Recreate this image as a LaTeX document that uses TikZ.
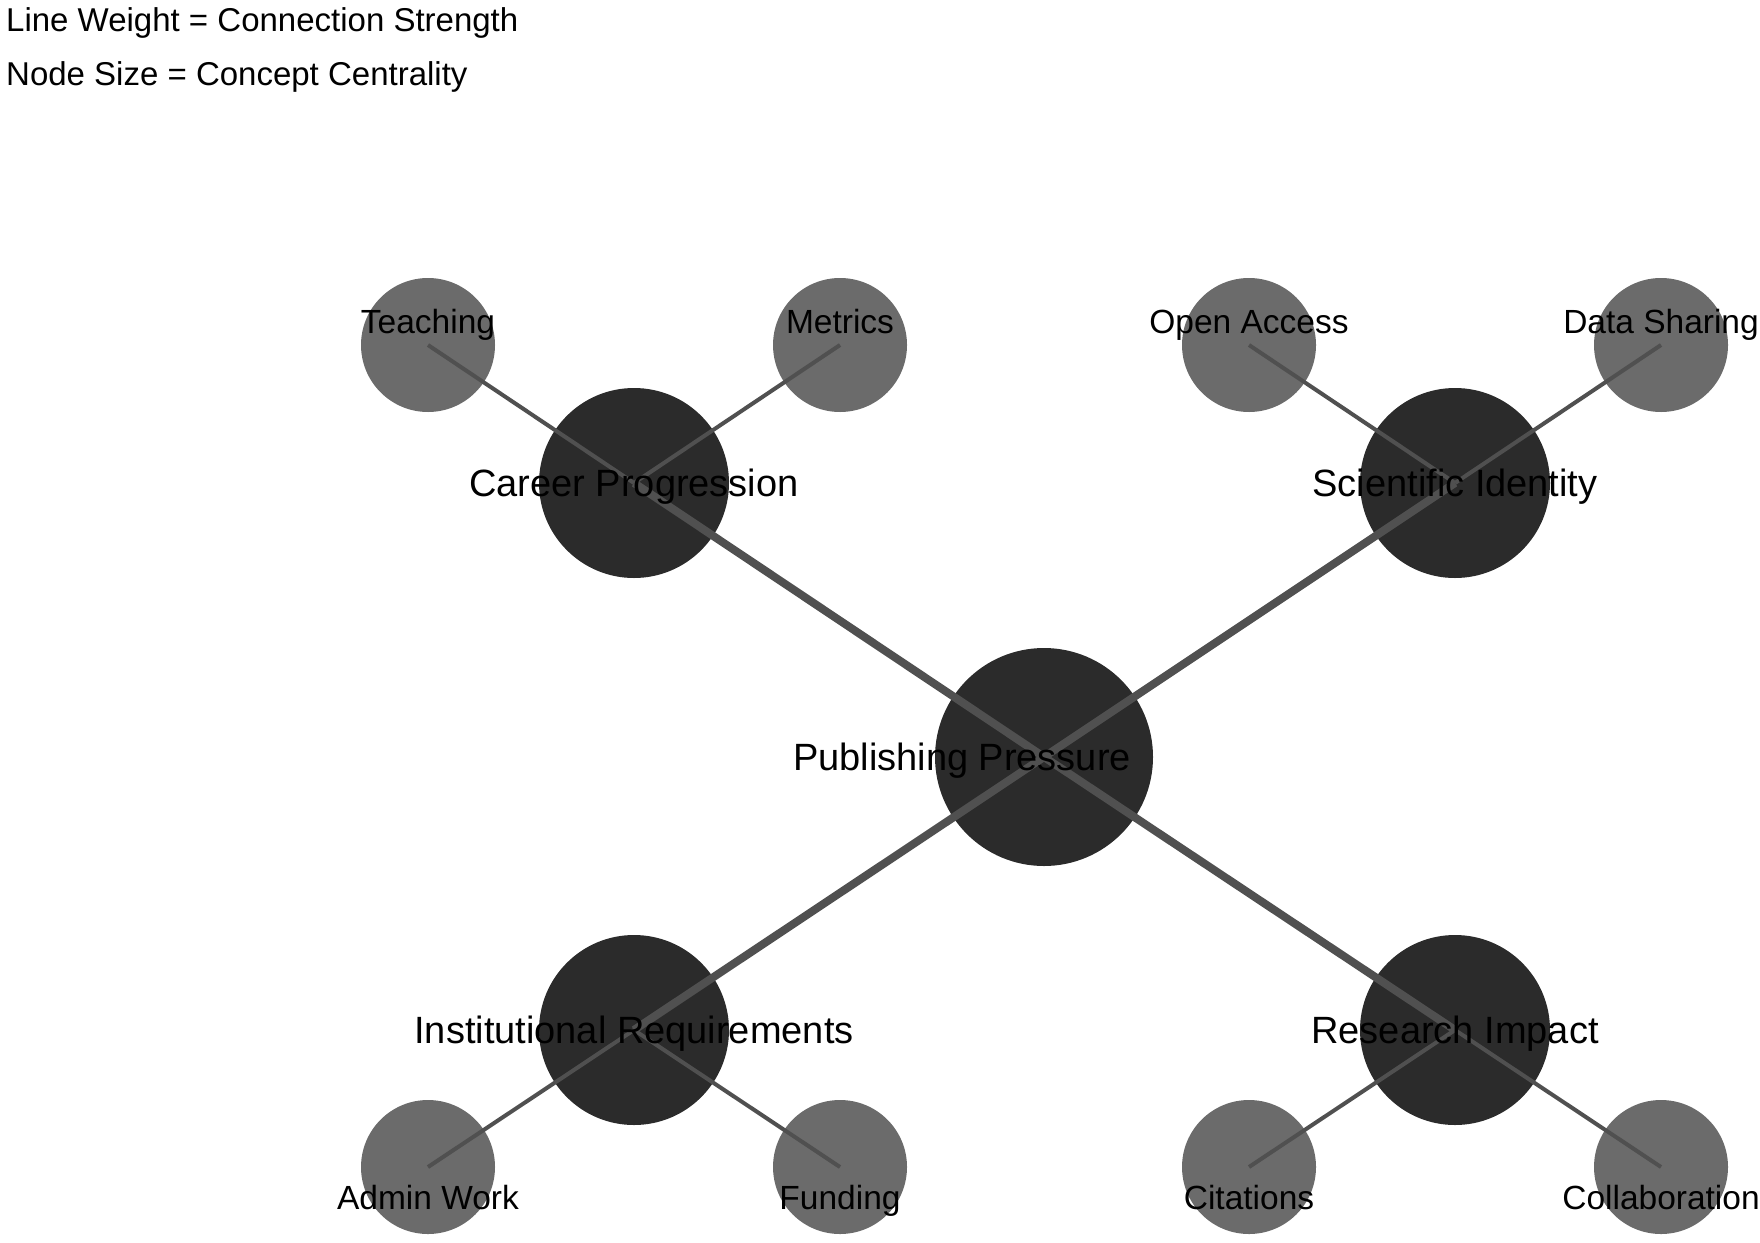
\documentclass[tikz,border=0pt]{standalone}
\usepackage{fontspec}
\setmainfont{Liberation Sans}
\definecolor{hubgray}{HTML}{2B2B2B}
\definecolor{leafgray}{HTML}{6B6B6B}
\definecolor{linkgray}{HTML}{505050}
\tikzset{
  hub/.style={circle, fill=hubgray, inner sep=0pt, minimum size=190pt},
  core/.style={circle, fill=hubgray, inner sep=0pt, minimum size=218pt},
  leaf/.style={circle, fill=leafgray, inner sep=0pt, minimum size=134pt},
  hublink/.style={draw=linkgray, line width=8pt},
  leaflink/.style={draw=linkgray, line width=4pt},
  hublabel/.style={anchor=base, inner sep=0pt, font=\fontsize{38}{44}\selectfont},
  leaflabel/.style={anchor=base, inner sep=0pt, font=\fontsize{33.5}{40}\selectfont},
  legendtext/.style={anchor=base west, inner sep=0pt, font=\fontsize{33}{40}\selectfont}
}
\begin{document}
\begin{tikzpicture}[x=1pt, y=-1pt]
  \useasboundingbox (0,0) rectangle (1760,1242);

  % legend
  \node[legendtext] (legend1) at (6,31) {Line Weight = Connection Strength};
  \node[legendtext] (legend2) at (6,85) {Node Size = Concept Centrality};

  % circles
  \node[core] (pp) at (1044,757) {};
  \node[hub] (cp) at (634,483) {};
  \node[hub] (si) at (1455,483) {};
  \node[hub] (ir) at (634,1030) {};
  \node[hub] (ri) at (1455,1030) {};
  \node[leaf] (teach) at (428,345) {};
  \node[leaf] (metr) at (840,345) {};
  \node[leaf] (oa) at (1249,345) {};
  \node[leaf] (ds) at (1661,345) {};
  \node[leaf] (admin) at (428,1167) {};
  \node[leaf] (fund) at (840,1167) {};
  \node[leaf] (cit) at (1249,1167) {};
  \node[leaf] (collab) at (1661,1167) {};

  % links
  \foreach \h in {cp,si,ir,ri}
    \draw[hublink] (pp.center) -- (\h.center);
  \draw[leaflink] (cp.center) -- (teach.center);
  \draw[leaflink] (cp.center) -- (metr.center);
  \draw[leaflink] (si.center) -- (oa.center);
  \draw[leaflink] (si.center) -- (ds.center);
  \draw[leaflink] (ir.center) -- (admin.center);
  \draw[leaflink] (ir.center) -- (fund.center);
  \draw[leaflink] (ri.center) -- (cit.center);
  \draw[leaflink] (ri.center) -- (collab.center);

  % labels
  \node[hublabel] (pp-text) at (962,770) {Publishing Pressure};
  \node[hublabel] (cp-text) at (634,496) {Career Progression};
  \node[hublabel] (si-text) at (1455,496) {Scientific Identity};
  \node[hublabel] (ir-text) at (634,1043) {Institutional Requirements};
  \node[hublabel] (ri-text) at (1455,1043) {Research Impact};
  \node[leaflabel] (teach-text) at (428,333) {Teaching};
  \node[leaflabel] (metr-text) at (840,333) {Metrics};
  \node[leaflabel] (oa-text) at (1249,333) {Open Access};
  \node[leaflabel] (ds-text) at (1661,333) {Data Sharing};
  \node[leaflabel] (admin-text) at (428,1209) {Admin Work};
  \node[leaflabel] (fund-text) at (840,1209) {Funding};
  \node[leaflabel] (cit-text) at (1249,1209) {Citations};
  \node[leaflabel] (collab-text) at (1661,1209) {Collaboration};
\end{tikzpicture}
\end{document}
